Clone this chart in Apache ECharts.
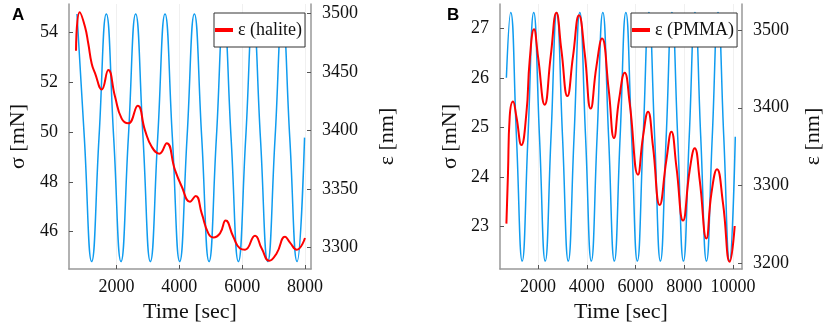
<!DOCTYPE html>
<html>
<head>
<meta charset="utf-8">
<script src="https://cdn.jsdelivr.net/npm/echarts@6/dist/echarts.min.js"></script>
<style>
  html, body { margin: 0; padding: 0; background: #fff; }
  #main { width: 830px; height: 332px; }
</style>
</head>
<body>
<div id="main"></div>
<script>
// panel A: halite
var timeSigA = [742, 976, 1209, 1443, 1676, 1910, 2143, 2377, 2610, 2844, 3077, 3311, 3544, 3778, 4011, 4245,
    4478, 4712, 4945, 5179, 5412, 5646, 5879, 6113, 6346, 6580, 6813, 7047, 7280, 7514, 7747, 7985];
var sigA = [54.75, 49.78, 44.8, 49.78, 54.75, 49.78, 44.8, 49.78, 54.75, 49.78, 44.8, 49.78, 54.75, 49.78, 44.8, 49.78,
    54.75, 49.78, 44.8, 49.78, 54.75, 49.78, 44.8, 49.78, 54.75, 49.78, 44.8, 49.78, 54.75, 49.78, 44.8, 49.78];
var timeEpsA = [711, 829, 997, 1103, 1211, 1316, 1529, 1739, 1952, 2165, 2376, 2675, 2907, 3120, 3362, 3598,
    3862, 4075, 4339, 4521, 4712, 4922, 5081, 5294, 5475, 5717, 5931, 6090, 6408, 6621, 6863, 7099,
    7363, 7522, 7735, 7999];
var epsA = [3468, 3501, 3488.6, 3474, 3457, 3449, 3435, 3451.5, 3429, 3410, 3406, 3421, 3400, 3386, 3380, 3389,
    3366, 3352, 3339, 3344, 3329, 3312, 3308.5, 3312, 3323, 3309, 3299, 3298, 3310, 3299, 3288.5, 3295,
    3309, 3304, 3298, 3308];

// panel B: PMMA
var timeSigB = [703, 880, 1116, 1352, 1589, 1825, 2061, 2297, 2534, 2770, 3006, 3242, 3479, 3715, 3951, 4187,
    4424, 4660, 4896, 5132, 5369, 5605, 5841, 6077, 6314, 6550, 6786, 7022, 7259, 7495, 7731, 7967,
    8204, 8440, 8676, 8912, 9149, 9385, 9621, 9857, 10094];
var sigB = [26.0, 27.32, 24.81, 22.3, 24.81, 27.32, 24.81, 22.3, 24.81, 27.32, 24.81, 22.3, 24.81, 27.32, 24.81, 22.3,
    24.81, 27.32, 24.81, 22.3, 24.81, 27.32, 24.81, 22.3, 24.81, 27.32, 24.81, 22.3, 24.81, 27.32, 24.81, 22.3,
    24.81, 27.32, 24.81, 22.3, 24.81, 27.32, 24.81, 22.3, 24.81];
var timeEpsB = [704, 769, 839, 974, 1114, 1319, 1524, 1659, 1836, 2000, 2275, 2521, 2755, 2960, 3206, 3436,
    3682, 3916, 4162, 4396, 4626, 4901, 5118, 5323, 5557, 5762, 6103, 6308, 6513, 6718, 6993, 7268,
    7473, 7678, 7949, 8224, 8429, 8634, 8909, 9114, 9344, 9590, 9865, 10070];
var epsB = [3251, 3316, 3388.5, 3408, 3388.5, 3352, 3393, 3461, 3501, 3466, 3404, 3466, 3522, 3474, 3415, 3466,
    3519, 3470, 3399, 3453, 3489, 3423, 3361, 3410, 3445, 3406, 3314, 3363, 3395, 3350, 3275, 3333,
    3369, 3324, 3255, 3320, 3348, 3307, 3232, 3290, 3321, 3277, 3202, 3248];

// tick labels
var ticksTimeA = [2000, 4000, 6000, 8000];
var ticksTimeB = [2000, 4000, 6000, 8000, 10000];
var ticksSigA = [46, 48, 50, 52, 54];
var ticksEpsA = [3300, 3350, 3400, 3450, 3500];
var ticksSigB = [23, 24, 25, 26, 27];
var ticksEpsB = [3200, 3300, 3400, 3500];

var nameA = 'ε (halite)';
var nameB = 'ε (PMMA)';

function pairs(t, v) {
    return t.map(function (x, i) { return [x, v[i]]; });
}

var serif = 'Liberation Serif';
var blue = '#0f9cf0';
var red = '#ff0000';

function plain(v) { return String(v); }

function xAxisOf(grid, min, max, ticks) {
    return {
        type: 'value', gridIndex: grid, min: min, max: max,
        name: 'Time [sec]', nameLocation: 'middle', nameGap: 31,
        nameTextStyle: { fontFamily: serif, fontSize: 22, color: '#111' },
        axisLine: { show: true, onZero: false, lineStyle: { color: '#999', width: 1.5 } },
        axisTick: { show: true, inside: true, length: 4, customValues: ticks, lineStyle: { color: '#555' } },
        axisLabel: { customValues: ticks, formatter: plain, margin: 9, fontFamily: serif, fontSize: 18, color: '#111' },
        splitLine: { show: true, lineStyle: { color: '#f0f0f0', width: 1 } }
    };
}

function yAxisOf(grid, pos, min, max, ticks, name, gap) {
    return {
        type: 'value', gridIndex: grid, position: pos, min: min, max: max,
        name: name, nameLocation: 'middle', nameGap: gap, nameRotate: 90,
        nameTextStyle: { fontFamily: serif, fontSize: 22, color: '#111' },
        axisLine: { show: true, lineStyle: { color: '#999', width: 1.5 } },
        axisTick: { show: true, inside: true, length: 4, customValues: ticks, lineStyle: { color: '#555' } },
        axisLabel: { customValues: ticks, formatter: plain, margin: 11, fontFamily: serif, fontSize: 18, color: '#111' },
        splitLine: { show: false }
    };
}

function legendOf(name, left) {
    return {
        data: [name], left: left, top: 13, orient: 'vertical',
        icon: 'rect', itemWidth: 18, itemHeight: 4, itemGap: 0,
        padding: [8, 3, 8, 1],
        borderColor: '#333', borderWidth: 1, backgroundColor: '#fff',
        textStyle: { fontFamily: serif, fontSize: 18, color: '#111', lineHeight: 18 }
    };
}

var myChart = echarts.init(document.getElementById('main'));
myChart.setOption({
    animation: false,
    title: [
        { text: 'A', left: 12, top: 7, padding: 0, textStyle: { fontFamily: 'Liberation Sans', fontWeight: 'bold', fontSize: 17, color: '#000' } },
        { text: 'B', left: 447, top: 7, padding: 0, textStyle: { fontFamily: 'Liberation Sans', fontWeight: 'bold', fontSize: 17, color: '#000' } }
    ],
    legend: [legendOf(nameA, 214), legendOf(nameB, 631)],
    grid: [
        { left: 69, right: 519, top: 4, bottom: 63 },
        { left: 500, right: 88, top: 4, bottom: 63 }
    ],
    xAxis: [
        xAxisOf(0, 488, 8190, ticksTimeA),
        xAxisOf(1, 441, 10369, ticksTimeB)
    ],
    yAxis: [
        yAxisOf(0, 'left', 44.5, 55.15, ticksSigA, 'σ [mN]', 40),
        yAxisOf(0, 'right', 3281.5, 3508, ticksEpsA, 'ε [nm]', 65),
        yAxisOf(1, 'left', 22.14, 27.49, ticksSigB, 'σ [mN]', 39),
        yAxisOf(1, 'right', 3192.7, 3533.4, ticksEpsB, 'ε [nm]', 60)
    ],
    series: [
        {
            name: 'σ (halite)', type: 'line', xAxisIndex: 0, yAxisIndex: 0,
            data: pairs(timeSigA, sigA), smooth: 0.5, showSymbol: false,
            lineStyle: { color: blue, width: 1.5 }, itemStyle: { color: blue }
        },
        {
            name: nameA, type: 'line', xAxisIndex: 0, yAxisIndex: 1,
            data: pairs(timeEpsA, epsA), smooth: 0.5, showSymbol: false,
            lineStyle: { color: red, width: 2 }, itemStyle: { color: red }
        },
        {
            name: 'σ (PMMA)', type: 'line', xAxisIndex: 1, yAxisIndex: 2,
            data: pairs(timeSigB, sigB), smooth: 0.5, showSymbol: false,
            lineStyle: { color: blue, width: 1.5 }, itemStyle: { color: blue }
        },
        {
            name: nameB, type: 'line', xAxisIndex: 1, yAxisIndex: 3,
            data: pairs(timeEpsB, epsB), smooth: 0.5, showSymbol: false,
            lineStyle: { color: red, width: 2 }, itemStyle: { color: red }
        }
    ]
});
</script>
</body>
</html>
